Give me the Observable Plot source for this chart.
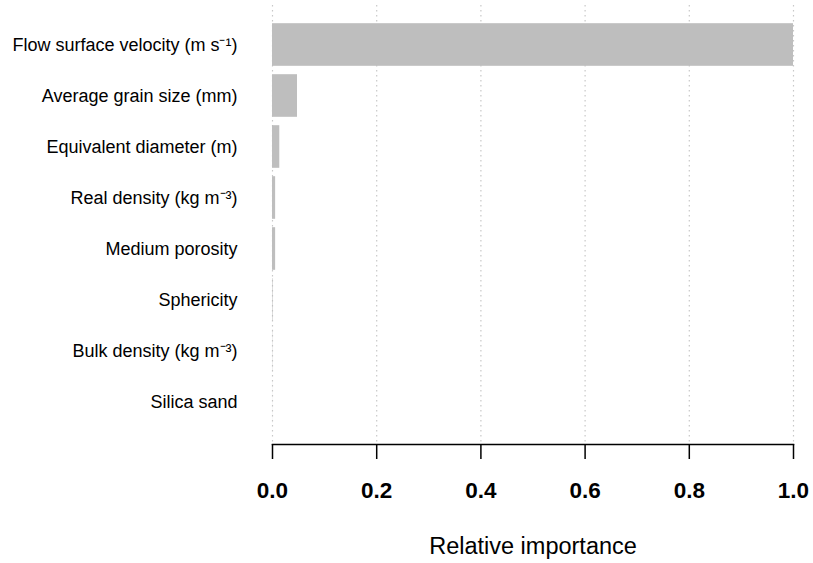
<!DOCTYPE html>
<html>
<head>
<meta charset="utf-8">
<script src="https://cdn.jsdelivr.net/npm/d3@7"></script>
<script src="https://cdn.jsdelivr.net/npm/@observablehq/plot@0.6"></script>
<style>
  html, body { margin: 0; padding: 0; background: #fff; }
  #chart svg { display: block; }
</style>
</head>
<body>
<div id="chart"></div>
<script>
const categories = [
  "Flow surface velocity (m s⁻¹)",
  "Average grain size (mm)",
  "Equivalent diameter (m)",
  "Real density (kg m⁻³)",
  "Medium porosity",
  "Sphericity",
  "Bulk density (kg m⁻³)",
  "Silica sand"
];
const importance = [1.0, 0.048, 0.014, 0.006, 0.006, 0.001, 0.0005, 0.0002];
const xTicks = [0, 0.2, 0.4, 0.6, 0.8, 1.0];
const xLabel = "Relative importance";

const data = categories.map((c, i) => ({name: c, value: importance[i]}));

const chart = Plot.plot({
  width: 813,
  height: 563,
  marginLeft: 272,
  marginRight: 20,
  marginTop: 5,
  marginBottom: 119,
  style: {fontFamily: "'Liberation Sans', Arial, Helvetica, sans-serif", color: "#000", background: "#fff"},
  x: {domain: [0, 1]},
  y: {domain: categories, padding: 0, insetTop: 12.5, insetBottom: 15.5},
  marks: [
    Plot.ruleX(xTicks, {stroke: "#c8c8c8", strokeWidth: 1.2, strokeDasharray: "1.5,3.5"}),
    Plot.barX(data, {x: "value", y: "name", fill: "#bebebe", insetTop: 4.2, insetBottom: 4.2}),
    Plot.frame({anchor: "bottom", stroke: "#000", strokeWidth: 1.5}),
    Plot.axisX({ticks: xTicks, tickSize: 15, tickPadding: 23, tickFormat: d3.format(".1f"), fontSize: 22.5, label: null, strokeWidth: 1.5, fontWeight: "bold"}),
    Plot.axisY({tickSize: 0, tickPadding: 35, fontSize: 18, label: null}),
    Plot.text([xLabel], {frameAnchor: "bottom", dy: 102, fontSize: 23.5, textAnchor: "middle", lineAnchor: "middle"})
  ]
});
document.getElementById("chart").appendChild(chart);
</script>
</body>
</html>
